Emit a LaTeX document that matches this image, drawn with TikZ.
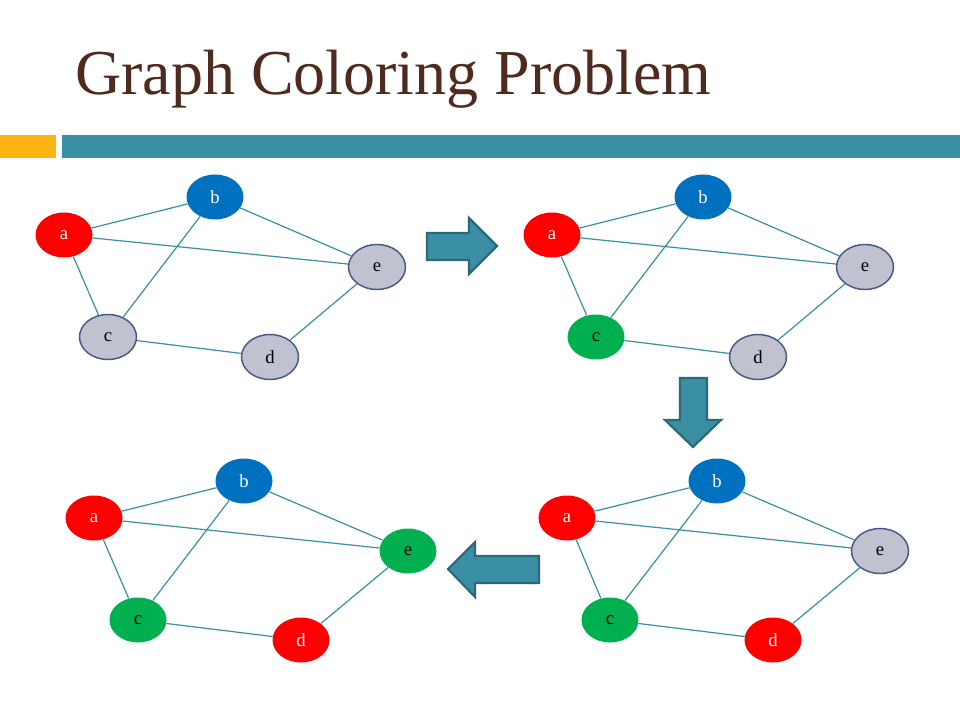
\documentclass[tikz,border=0pt]{standalone}
\usepackage{fontspec}
\setmainfont{Liberation Serif}
\usepackage{tikz}
\definecolor{titlebrown}{HTML}{4F2A1F}
\definecolor{barorange}{HTML}{FFB511}
\definecolor{barteal}{HTML}{3A8FA5}
\definecolor{edgeteal}{HTML}{3A8FA0}
\definecolor{arrowline}{HTML}{28697A}
\definecolor{nodegray}{HTML}{C0C2D0}
\definecolor{nodeline}{HTML}{4A5888}
\definecolor{nodered}{HTML}{FF0000}
\definecolor{nodeblue}{HTML}{0070C0}
\definecolor{nodegreen}{HTML}{00B050}
\tikzstyle{vertex} = [ellipse, minimum width=42.75pt, minimum height=33.75pt, inner sep=0pt, font=\fontsize{14}{16}\selectfont]
\tikzstyle{uncolored} = [vertex, fill=nodegray, draw=nodeline, line width=1.1pt, text=black]
\tikzstyle{red} = [vertex, fill=nodered, text=white]
\tikzstyle{blue} = [vertex, fill=nodeblue, text=white]
\tikzstyle{green} = [vertex, fill=nodegreen, text=black]
\tikzstyle{edge} = [draw=edgeteal, line width=0.9pt]
\tikzstyle{bigarrow} = [fill=barteal, draw=arrowline, line width=1.6pt, line join=miter]
\usetikzlibrary{shapes.geometric}
\begin{document}
\begin{tikzpicture}[x=0.75pt, y=-0.75pt]
	\useasboundingbox[fill=white] (0,0) rectangle (960,720);
	\node[anchor=base west, text=titlebrown, font=\fontsize{48}{54}\selectfont, inner sep=0pt](title) at (75, 95){Graph Coloring Problem};
	\fill[barorange] (0,135) rectangle (56,158);
	\fill[barteal] (62,135) rectangle (960,158);

	% step 1
	\node[red](a1) at (64, 235){a};
	\node[blue](b1) at (215, 197){b};
	\node[uncolored](e1) at (377, 267){e};
	\node[uncolored](c1) at (108, 337){c};
	\node[uncolored](d1) at (270, 357){d};
	\draw[edge](a1) -- (b1);
	\draw[edge](a1) -- (e1);
	\draw[edge](a1) -- (c1);
	\draw[edge](b1) -- (c1);
	\draw[edge](b1) -- (e1);
	\draw[edge](c1) -- (d1);
	\draw[edge](d1) -- (e1);
	\draw[bigarrow] (427,233) -- (469,233) -- (469,218) -- (497,246) -- (469,274) -- (469,260) -- (427,260) -- cycle;

	% step 2
	\node[red](a2) at (552, 235){a};
	\node[blue](b2) at (703, 197){b};
	\node[uncolored](e2) at (865, 267){e};
	\node[green](c2) at (596, 337){c};
	\node[uncolored](d2) at (758, 357){d};
	\draw[edge](a2) -- (b2);
	\draw[edge](a2) -- (e2);
	\draw[edge](a2) -- (c2);
	\draw[edge](b2) -- (c2);
	\draw[edge](b2) -- (e2);
	\draw[edge](c2) -- (d2);
	\draw[edge](d2) -- (e2);
	\draw[bigarrow] (680,378) -- (707,378) -- (707,420) -- (721,420) -- (693,447) -- (665,420) -- (680,420) -- cycle;

	% step 3
	\node[red](a3) at (567, 518){a};
	\node[blue](b3) at (717, 481){b};
	\node[uncolored](e3) at (880, 551){e};
	\node[green](c3) at (610, 620){c};
	\node[red](d3) at (773, 640){d};
	\draw[edge](a3) -- (b3);
	\draw[edge](a3) -- (e3);
	\draw[edge](a3) -- (c3);
	\draw[edge](b3) -- (c3);
	\draw[edge](b3) -- (e3);
	\draw[edge](c3) -- (d3);
	\draw[edge](d3) -- (e3);
	\draw[bigarrow] (539,556) -- (475,556) -- (475,542) -- (448,569) -- (475,597) -- (475,583) -- (539,583) -- cycle;

	% step 4
	\node[red](a4) at (94, 518){a};
	\node[blue](b4) at (244, 481){b};
	\node[green](e4) at (408, 551){e};
	\node[green](c4) at (138, 620){c};
	\node[red](d4) at (301, 640){d};
	\draw[edge](a4) -- (b4);
	\draw[edge](a4) -- (e4);
	\draw[edge](a4) -- (c4);
	\draw[edge](b4) -- (c4);
	\draw[edge](b4) -- (e4);
	\draw[edge](c4) -- (d4);
	\draw[edge](d4) -- (e4);
\end{tikzpicture}
\end{document}
